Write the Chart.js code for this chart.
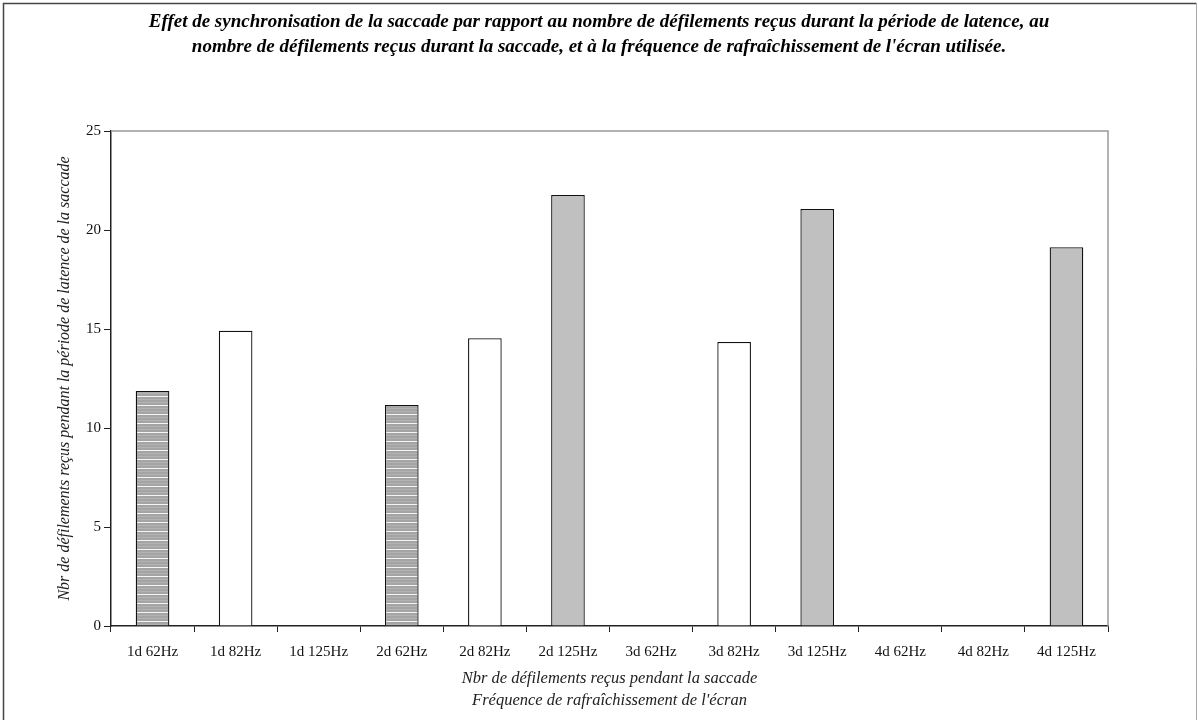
<!DOCTYPE html>
<html>
<head>
<meta charset="utf-8">
<script src="https://cdn.jsdelivr.net/npm/chart.js@4"></script>
<style>
  html, body { margin: 0; padding: 0; background: #fff; }
  #wrap { width: 1198px; height: 720px; }
</style>
</head>
<body>
<div id="wrap"><canvas id="chart" width="1198" height="720"></canvas></div>
<script>
// Data
const categories = ['1d 62Hz', '1d 82Hz', '1d 125Hz', '2d 62Hz', '2d 82Hz', '2d 125Hz',
                    '3d 62Hz', '3d 82Hz', '3d 125Hz', '4d 62Hz', '4d 82Hz', '4d 125Hz'];
const latenceValues = [11.87, 14.91, null, 11.16, 14.53, 21.77, null, 14.34, 21.06, null, null, 19.13];
const yMin = 0;
const yMax = 25;
const yStep = 5;

const titleLines = [
    "Effet de synchronisation de la saccade par rapport au nombre de défilements reçus durant la période de latence, au",
    "nombre de défilements reçus durant la saccade, et à la fréquence de rafraîchissement de l'écran utilisée."
];
const xTitleLines = ['Nbr de défilements reçus pendant la saccade', "Fréquence de rafraîchissement de l'écran"];
const yTitle = 'Nbr de défilements reçus pendant la période de latence de la saccade';

const serif = "'Liberation Serif', 'Times New Roman', serif";

// Fill patterns
function stripePattern() {
    const c = document.createElement('canvas');
    c.width = 8; c.height = 9;
    const g = c.getContext('2d');
    g.fillStyle = '#a4a4a4'; g.fillRect(0, 0, 8, 9);
    g.fillStyle = '#b2b2b2'; g.fillRect(0, 3, 8, 1); g.fillRect(0, 6, 8, 1);
    g.fillStyle = '#f4f4f4'; g.fillRect(0, 0, 8, 1);
    return g.createPattern(c, 'repeat');
}

const stripes = stripePattern();

function fillFor(label) {
    if (label.endsWith('62Hz')) return stripes;
    if (label.endsWith('82Hz')) return '#ffffff';
    return '#c0c0c0';
}

// Outer frame around the whole picture
const framePlugin = {
    id: 'frame',
    beforeDraw(chart) {
        const ctx = chart.ctx;
        ctx.save();
        ctx.fillStyle = '#fff';
        ctx.fillRect(0, 0, chart.width, chart.height);
        ctx.strokeStyle = '#444';
        ctx.lineWidth = 1.5;
        ctx.beginPath();
        ctx.moveTo(3.5, 730);
        ctx.lineTo(3.5, 3.5);
        ctx.lineTo(1196.5, 3.5);
        ctx.stroke();
        ctx.strokeStyle = '#aaa';
        ctx.lineWidth = 1;
        ctx.beginPath();
        ctx.moveTo(1196.5, 3.5);
        ctx.lineTo(1196.5, 730);
        ctx.stroke();
        ctx.restore();
    }
};

// Grey top and right edges of the plot area
const plotBorderPlugin = {
    id: 'plotBorder',
    beforeDatasetsDraw(chart) {
        const a = chart.chartArea;
        const ctx = chart.ctx;
        ctx.save();
        ctx.strokeStyle = '#999';
        ctx.lineWidth = 1.5;
        ctx.beginPath();
        ctx.moveTo(a.left, a.top);
        ctx.lineTo(a.right, a.top);
        ctx.lineTo(a.right, a.bottom);
        ctx.stroke();
        ctx.restore();
    }
};

new Chart(document.getElementById('chart'), {
    type: 'bar',
    data: {
        labels: categories,
        datasets: [{
            data: latenceValues,
            backgroundColor: categories.map(fillFor),
            borderColor: '#111',
            borderWidth: 1.3,
            categoryPercentage: 1,
            barPercentage: 0.405
        }]
    },
    options: {
        responsive: false,
        animation: false,
        layout: { padding: { left: 0, right: 0, top: 0, bottom: 0 } },
        plugins: {
            legend: { display: false },
            tooltip: { enabled: false },
            title: {
                display: true,
                text: titleLines,
                color: '#000',
                font: { family: serif, size: 19, weight: 'bold', style: 'italic', lineHeight: 1.316 },
                padding: { top: 10, bottom: 71 }
            }
        },
        scales: {
            x: {
                offset: true,
                grid: { offset: true, drawOnChartArea: false, drawTicks: true, tickLength: 6, color: '#222', lineWidth: 1 },
                border: { color: '#222', width: 1.5 },
                ticks: { color: '#111', font: { family: serif, size: 15 }, padding: 11, maxRotation: 0, autoSkip: false },
                title: {
                    display: true,
                    text: xTitleLines,
                    color: '#222',
                    font: { family: serif, size: 16.5, style: 'italic', lineHeight: 1.3 },
                    padding: { top: 0, bottom: 9 }
                },
                afterFit(scale) { scale.height = 94; }
            },
            y: {
                min: yMin,
                max: yMax,
                ticks: { stepSize: yStep, color: '#111', font: { family: serif, size: 15 }, padding: 3 },
                grid: { drawOnChartArea: false, tickLength: 7, color: '#222' },
                border: { color: '#222', width: 1.5 },
                title: {
                    display: true,
                    text: yTitle,
                    color: '#222',
                    font: { family: serif, size: 16, style: 'italic', lineHeight: 1.2 },
                    padding: { top: 55, bottom: 0 }
                },
                afterFit(scale) { scale.width = 111; }
            },
            // empty right-hand box so the plot stops where the reference does
            yRight: {
                position: 'right',
                display: true,
                grid: { display: false },
                border: { display: false },
                ticks: { display: false },
                afterFit(scale) { scale.width = 90; }
            }
        }
    },
    plugins: [framePlugin, plotBorderPlugin]
});
</script>
</body>
</html>
